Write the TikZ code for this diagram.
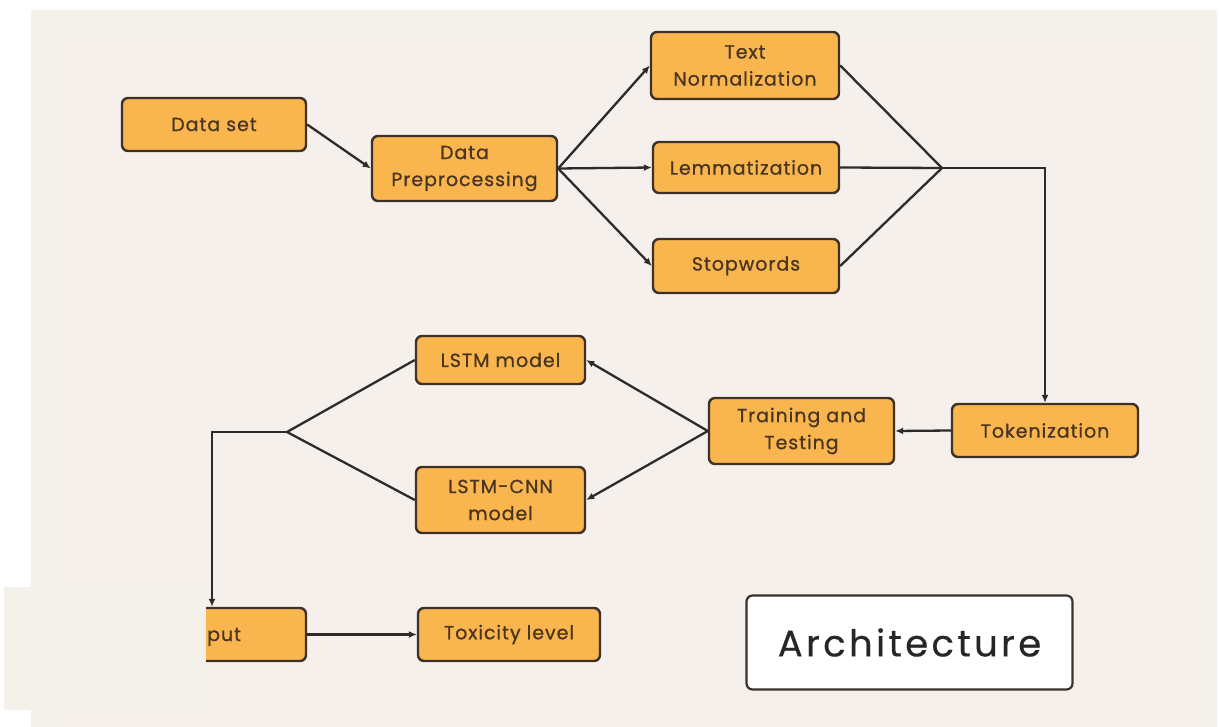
\documentclass[tikz,border=0pt]{standalone}
\usepackage{fontspec}
\setmainfont{Poppins}
\newfontfamily\stageface[LetterSpace=5, FakeBold=0.8]{Poppins}
\newfontfamily\titleface[LetterSpace=9, FakeBold=0.4]{Poppins}
\usetikzlibrary{arrows.meta}

\definecolor{pagebg}{HTML}{F4F1EA}
\definecolor{innerbg}{HTML}{F6F0EC}
\definecolor{stagefill}{HTML}{F9B54E}
\definecolor{stageline}{HTML}{3D3129}
\definecolor{stagetext}{HTML}{4A3520}
\definecolor{linkcol}{HTML}{2E2B29}

\tikzset{
    stage/.style={draw=stageline, fill=stagefill, line width=2.4pt,
        rounded corners=6pt, align=center, text=stagetext, inner sep=0pt,
        font=\stageface\fontsize{19}{27}\selectfont},
    link/.style={draw=linkcol, line width=2.3pt},
    flow/.style={link, -{Latex[length=8pt,width=7pt]}}
}

\begin{document}
\begin{tikzpicture}[x=1pt, y=-1pt]

    % page and background
    \useasboundingbox (0,0) rectangle (1220,727);
    \fill[white]   (0,0)   rectangle (1220,727);
    \fill[pagebg]  (31,10) rectangle (1217,727);
    \fill[innerbg] (59,33) rectangle (1202,727);

    % ==========================================
    % TOP ROW: data and preprocessing
    % ==========================================

    \node[stage, minimum width=184, minimum height=53] (dataset) at (214,124.5) {Data set};
    \node[stage, minimum width=185, minimum height=65] (prep)    at (464.5,168.5) {Data\\Preprocessing};

    % the three cleaning steps
    \node[stage, minimum width=188, minimum height=67] (textnorm) at (745,65.5)  {Text\\Normalization};
    \node[stage, minimum width=186, minimum height=51] (lemma)    at (746,167.5) {Lemmatization};
    \node[stage, minimum width=186, minimum height=54] (stopw)    at (746,266)   {Stopwords};

    \coordinate (mergeR) at (942,168); % where the steps join again

    \draw[flow] (dataset.east) -- (prep.west);
    \draw[flow] (prep.east) -- (textnorm.west);
    \draw[flow] (prep.east) -- (lemma.west);
    \draw[flow] (prep.east) -- (stopw.west);

    \draw[link] (textnorm.east) -- (mergeR);
    \draw[link] (lemma.east) -- (mergeR);
    \draw[link] (stopw.east) -- (mergeR);

    % ==========================================
    % MIDDLE ROW: tokens, training and models
    % ==========================================

    \node[stage, minimum width=186, minimum height=53] (token) at (1045,430.5) {Tokenization};
    \node[stage, minimum width=185, minimum height=66] (train) at (801.5,431)  {Training and\\Testing};
    \node[stage, minimum width=169, minimum height=48] (lstm)    at (500.5,360) {LSTM model};
    \node[stage, minimum width=169, minimum height=66] (lstmcnn) at (500.5,500) {LSTM-CNN\\model};

    \coordinate (mergeL) at (287,432); % models join here

    \draw[flow] (mergeR) -| (token.north);
    \draw[flow] (token.west) -- (train.east);
    \draw[flow] (train.west) -- (lstm.east);
    \draw[flow] (train.west) -- (lstmcnn.east);

    \draw[link] (lstm.west) -- (mergeL);
    \draw[link] (lstmcnn.west) -- (mergeL);

    % ==========================================
    % BOTTOM ROW: result
    % ==========================================

    \node[stage, minimum width=188, minimum height=53] (output) at (212,634.5) {};
    \node[stage, minimum width=182, minimum height=53] (toxic)  at (509,634.5) {Toxicity level};

    \draw[flow] (mergeL) -| (output.north);
    \draw[flow] (output.east) -- (toxic.west);

    % pasted patch over the left part of the output box
    \fill[pagebg] (4,587) rectangle (206,710);
    \node[anchor=base west, inner sep=0pt, text=stagetext,
          font=\stageface\fontsize{19}{27}\selectfont] (outlabel) at (207,641) {put};

    % title card
    \node[draw=stageline, fill=white, line width=2.2pt, rounded corners=6pt,
          minimum width=326, minimum height=94, text=black!85,
          font=\titleface\fontsize{37}{44}\selectfont] (title) at (909.5,642.5) {Architecture};

\end{tikzpicture}
\end{document}
